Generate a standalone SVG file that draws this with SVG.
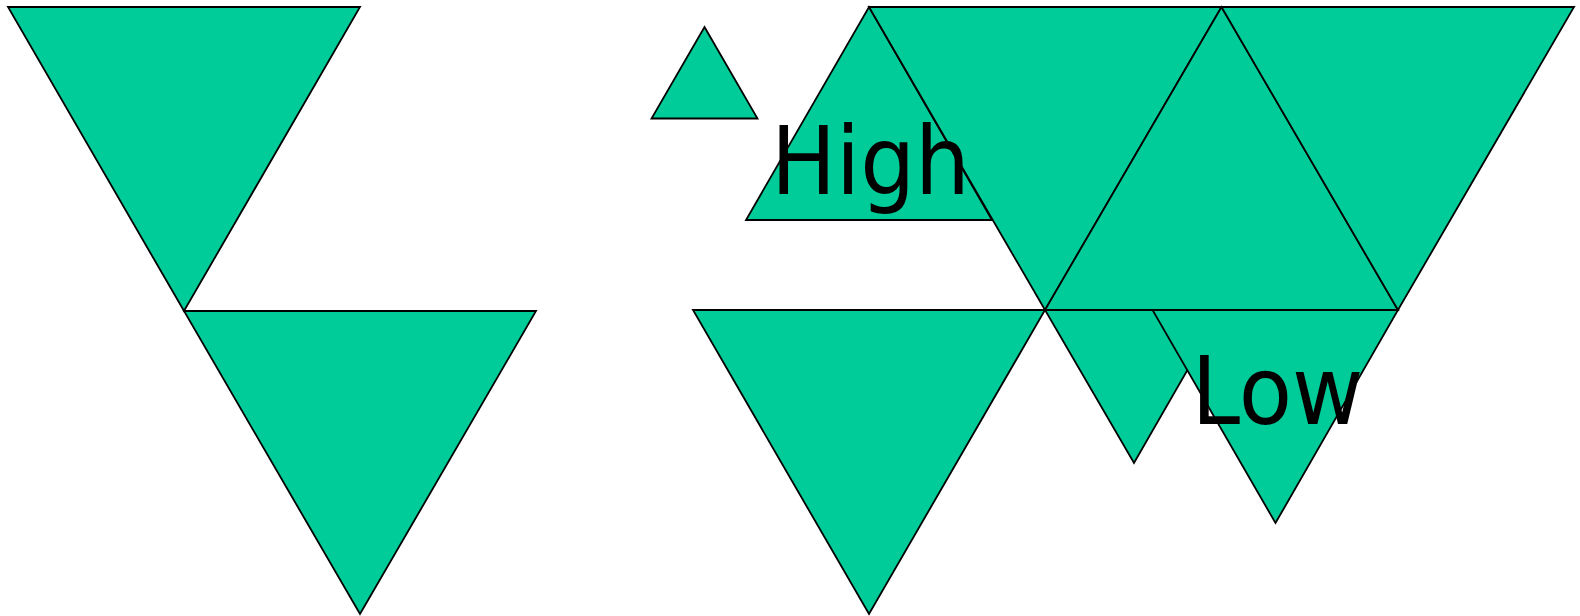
<svg xmlns="http://www.w3.org/2000/svg" width="1580" height="616" viewBox="0 0 1580 616">
  <style>
    .tri { fill: #00CC99; stroke: #000000; stroke-width: 1.8; stroke-linejoin: miter; }
    .lbl { font-family: "DejaVu Sans", Verdana, sans-serif; font-size: 95px; fill: #000000; }
  </style>
  <rect width="1580" height="616" fill="#FFFFFF"/>
  <g id="tri-top-left"><polygon class="tri" points="8,7 360,7 184,311"/></g>
  <g id="tri-bottom-left"><polygon class="tri" points="184,311 536,311 360,614"/></g>
  <g id="tri-small-up"><polygon class="tri" points="704.5,27 757.5,118.5 651.5,118.5"/></g>
  <g id="tri-high"><polygon class="tri" points="869,7 992,220 746,220"/></g>
  <g id="tri-inv-mid"><polygon class="tri" points="869,7 1221.5,7 1045,310"/></g>
  <g id="tri-up-big"><polygon class="tri" points="1221.5,7 1398,310 1045,310"/></g>
  <g id="tri-inv-right"><polygon class="tri" points="1221.5,7 1574,7 1398,310"/></g>
  <g id="tri-bottom-mid"><polygon class="tri" points="693,310 1045,310 869,614"/></g>
  <g id="tri-small-inv"><polygon class="tri" points="1045,310 1222,310 1134,463"/></g>
  <g id="tri-low"><polygon class="tri" points="1152.5,310 1398,310 1275.5,523"/></g>
  <g id="labels">
    <text class="lbl" x="771" y="193.5" textLength="199" lengthAdjust="spacingAndGlyphs">High</text>
    <text class="lbl" x="1191.5" y="423.5" textLength="172" lengthAdjust="spacingAndGlyphs">Low</text>
  </g>
  <g id="connectors"></g>
</svg>
